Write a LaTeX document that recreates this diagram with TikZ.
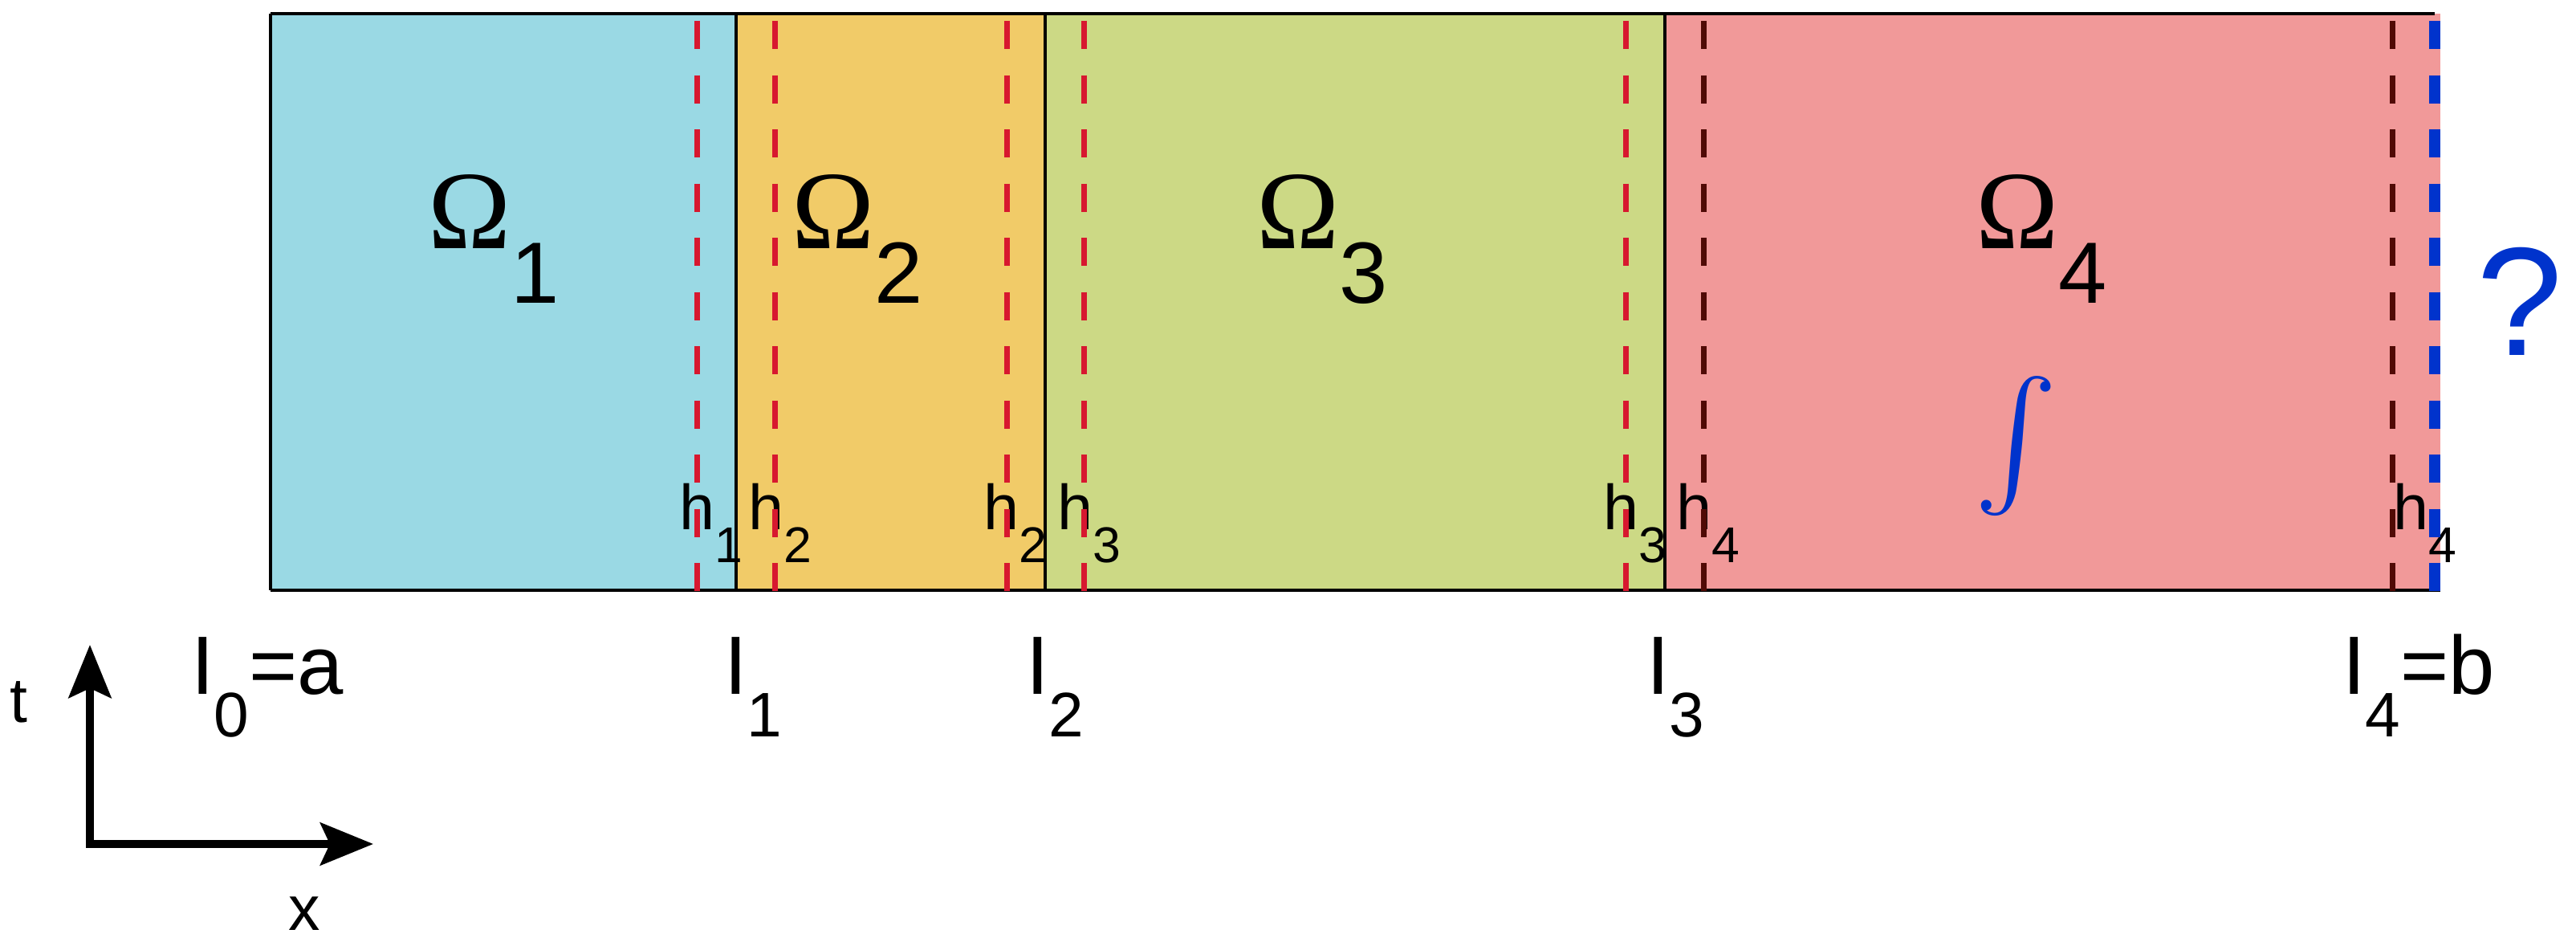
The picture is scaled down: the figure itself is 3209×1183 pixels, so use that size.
\documentclass[tikz,border=0pt]{standalone}
\usepackage{fontspec}
\setmainfont{Liberation Sans}
\newfontfamily\omfont{Liberation Serif}
\usetikzlibrary{arrows.meta}
\definecolor{cA}{HTML}{9AD9E4}
\definecolor{cB}{HTML}{F1CB68}
\definecolor{cC}{HTML}{CCD985}
\definecolor{cD}{HTML}{F19999}
\definecolor{dred}{HTML}{D7182F}
\definecolor{dkred}{HTML}{500A05}
\definecolor{qblue}{HTML}{0033CC}
\newcommand\hlab[1]{\fontsize{22.5}{22.5}\selectfont h\raisebox{-0.40cm}{\fontsize{17.8}{17.8}\selectfont #1}}
\newcommand\ilab[1]{\fontsize{29.3}{29.3}\selectfont I\raisebox{-0.52cm}{\fontsize{22.3}{22.3}\selectfont #1}}
\newcommand\omlab[1]{\fontsize{39.5}{39.5}\selectfont{\omfont Ω}\raisebox{-0.67cm}{\fontsize{30.8}{30.8}\selectfont #1}}
\begin{document}
\begin{tikzpicture}[x=0.01cm,y=-0.01cm,
  txt/.style={inner sep=0,outer sep=0,anchor=base west},
  border/.style={draw=black,line width=0.04cm},
  reddash/.style={draw=dred,line width=0.07cm,dash pattern=on 0.35cm off 0.325cm},
  darkdash/.style={draw=dkred,line width=0.07cm,dash pattern=on 0.35cm off 0.325cm},
  bluedash/.style={draw=qblue,line width=0.14cm,dash pattern=on 0.35cm off 0.325cm},
  axis/.style={line width=0.09cm,{Stealth[length=0.66cm,width=0.53cm,inset=0.12cm]}-{Stealth[length=0.66cm,width=0.53cm,inset=0.12cm]}}]
\useasboundingbox (0,0) rectangle (3209,1183);
% regions
\fill[cA] (337,17.5) rectangle (917,735);
\fill[cB] (917,17.5) rectangle (1302,735);
\fill[cC] (1302,17.5) rectangle (2074,735);
\fill[cD] (2074,17.5) rectangle (3040,735);
% region labels
\node[txt] (om1) at (533,310) {\omlab{1}};
\node[txt] (om2) at (986,310) {\omlab{2}};
\node[txt] (om3) at (1565,310) {\omlab{3}};
\node[txt] (om4) at (2461,310) {\omlab{4}};
\node[text=qblue,inner sep=0] (intg) at (2512,556) {\resizebox*{!}{1.74cm}{$\textstyle\int$}};
\node[txt,text=qblue,font=\fontsize{54.7}{54.7}\selectfont] (qm) at (3085,443) {?};
% h labels
\node[txt] (ha) at (846,660) {\hlab{1}};
\node[txt] (hb) at (932,660) {\hlab{2}};
\node[txt] (hc) at (1225,660) {\hlab{2}};
\node[txt] (hd) at (1317,660) {\hlab{3}};
\node[txt] (he) at (1997,660) {\hlab{3}};
\node[txt] (hf) at (2088,660) {\hlab{4}};
\node[txt] (hg) at (2981,660) {\hlab{4}};
% interface labels
\node[txt] (I0) at (238,865) {\ilab{0}=a};
\node[txt] (I1) at (902,865) {\ilab{1}};
\node[txt] (I2) at (1278,865) {\ilab{2}};
\node[txt] (I3) at (2051,865) {\ilab{3}};
\node[txt] (I4) at (2918,865) {\ilab{4}=b};
% borders
\draw[border] (337,17.5) -- (3033,17.5);
\draw[border] (337,735) -- (3040,735);
\draw[border] (337,17.5) -- (337,735);
\draw[border] (917,17.5) -- (917,735);
\draw[border] (1302,17.5) -- (1302,735);
\draw[border] (2074,17.5) -- (2074,735);
% dashed lines
\foreach \xx in {868,965,1254,1350,2025} \draw[reddash] (\xx,26) -- (\xx,736);
\foreach \xx in {2122,2980} \draw[darkdash] (\xx,26) -- (\xx,736);
\draw[bluedash] (3033,26) -- (3033,736);
% axes
\coordinate (orig) at (112,1051);
\coordinate (tend) at (112,803);
\coordinate (xend) at (465,1051);
\draw[axis] (tend) -- (orig) -- (xend);
\node[txt,font=\fontsize{22.4}{22.4}\selectfont] (tl) at (12,900) {t};
\node[txt,font=\fontsize{22.4}{22.4}\selectfont] (xl) at (359,1158) {x};
\end{tikzpicture}
\end{document}
